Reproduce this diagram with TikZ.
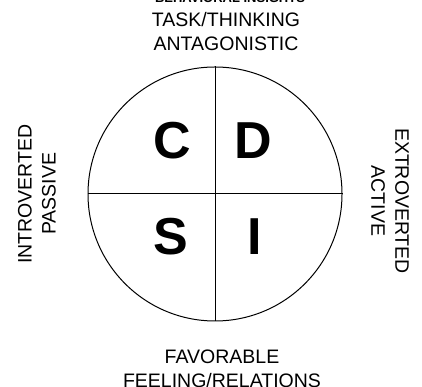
\documentclass[tikz,border=0pt]{standalone}
\usepackage{fontspec}
\setmainfont{Liberation Sans}
\usetikzlibrary{positioning}

\begin{document}
\begin{tikzpicture}[x=1pt,y=1pt,line width=1pt,
	disc node/.style={circle,draw,minimum size=254pt,inner sep=0pt},
	letter node/.style={font=\fontsize{52}{60}\selectfont\bfseries,inner sep=0pt},
	side node/.style={font=\fontsize{19.5}{24}\selectfont,align=center,inner sep=0pt}]

	\useasboundingbox (0,0) rectangle (422,387);

	\node[disc node] (disc) at (215,193) {};
	\draw (disc.north) -- (disc.south);
	\draw (disc.west) -- (disc.east);

	\node[letter node] (C) at (172,246) {C};
	\node[letter node] (D) at (253,246) {D};
	\node[letter node] (S) at (171,150) {S};
	\node[letter node] (I) at (255,150) {I};

	\node[font=\fontsize{13}{15}\selectfont\bfseries,anchor=base] (title) at (230,384) {BEHAVIORAL INSIGHTS};
	\node[side node] (top) at (226,355) {TASK/THINKING\\ANTAGONISTIC};
	\node[side node] (bottom) at (222,18) {FAVORABLE\\FEELING/RELATIONS};
	\node[side node,rotate=90] (left) at (37,193) {INTROVERTED\\PASSIVE};
	\node[side node,rotate=-90] (right) at (390,186) {EXTROVERTED\\ACTIVE};

\end{tikzpicture}
\end{document}
